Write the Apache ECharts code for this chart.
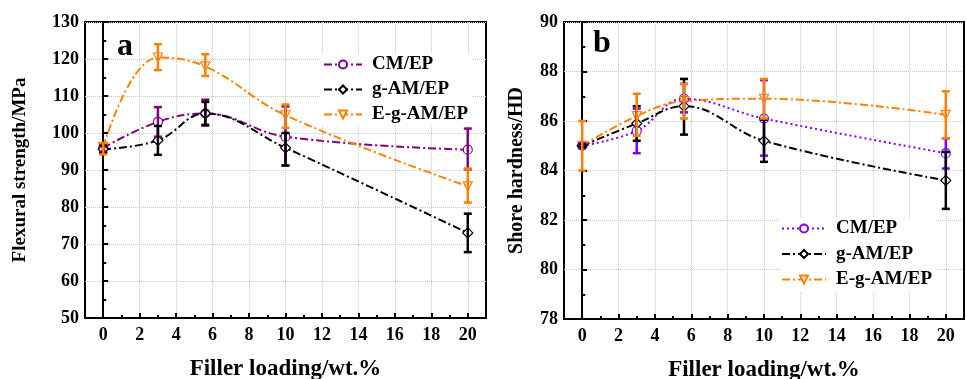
<!doctype html>
<html lang="en">
<head>
  <meta charset="UTF-8">
  <title>Filler loading</title>
</head>
<body style="margin:0;background:#fff">
<div id="main" style="width: 966px;height: 379px"></div>
<script src="https://cdn.jsdelivr.net/npm/echarts@6/dist/echarts.min.js"></script>
<script>
    // filler loading (wt.%)
    var loading = [0, 3, 5.6, 10, 20];
    var xMajor = [0, 2, 4, 6, 8, 10, 12, 14, 16, 18, 20];
    var xMinor = [-1, 1, 3, 5, 7, 9, 11, 13, 15, 17, 19];

    // (a) flexural strength, MPa
    var cmFlex = [96.0, 103.0, 105.3, 99.0, 95.5];
    var cmFlexLow = [95.0, 99.0, 102.0, 91.2, 90.2];
    var cmFlexHigh = [97.0, 107.0, 109.0, 107.2, 101.2];
    var gamFlex = [95.6, 98.0, 105.3, 96.0, 73.0];
    var gamFlexLow = [94.6, 94.1, 102.2, 91.2, 67.8];
    var gamFlexHigh = [96.6, 101.9, 108.4, 100.0, 78.2];
    var egamFlex = [96.2, 120.4, 118.0, 104.8, 85.6];
    var egamFlexLow = [94.2, 117.0, 115.4, 101.4, 81.2];
    var egamFlexHigh = [97.3, 124.0, 121.3, 107.7, 90.4];

    // (b) shore hardness, HD
    var cmHard = [85.0, 85.6, 86.9, 86.1, 84.7];
    var cmHardLow = [84.9, 84.7, 86.35, 84.6, 84.08];
    var cmHardHigh = [85.1, 86.5, 87.5, 87.65, 85.3];
    var gamHard = [85.0, 85.9, 86.6, 85.2, 83.6];
    var gamHardLow = [84.95, 85.2, 85.45, 84.35, 82.45];
    var gamHardHigh = [85.05, 86.6, 87.7, 86.05, 84.75];
    var egamHard = [85.0, 86.2, 86.8, 86.9, 86.25];
    var egamHardLow = [84.0, 85.4, 86.1, 86.1, 85.3];
    var egamHardHigh = [86.0, 87.1, 87.5, 87.7, 87.2];

    var PURPLE = '#800080', VIOLET = '#8000ff', BLACK = '#000', ORANGE = '#ff8000';
    var FONT = 'Liberation Serif';
    var DASHDOT = [8, 3, 2, 3];

    function pairs(ys) {
        return loading.map(function (x, i) { return [x, ys[i]]; });
    }
    function triples(lo, hi) {
        return loading.map(function (x, i) { return [x, lo[i], hi[i]]; });
    }

    function lineSeries(name, ys, color, symbol, rotate, dash, idx) {
        return {
            name: name, type: 'line', xAxisIndex: idx * 2, yAxisIndex: idx,
            data: pairs(ys), smooth: 0.4, z: 3,
            symbol: symbol, symbolSize: symbol === 'diamond' ? 10 : 9, symbolRotate: rotate,
            showAllSymbol: true,
            lineStyle: {color: color, width: 2, type: dash},
            itemStyle: {color: '#fff', borderColor: color, borderWidth: 1.2}
        };
    }

    function errSeries(lo, hi, color, idx) {
        return {
            type: 'custom', xAxisIndex: idx * 2, yAxisIndex: idx, z: 4,
            data: triples(lo, hi),
            encode: {x: 0, y: [1, 2]},
            renderItem: function (params, api) {
                var x = api.value(0);
                var p1 = api.coord([x, api.value(1)]);
                var p2 = api.coord([x, api.value(2)]);
                var st = {stroke: color, lineWidth: 2.5};
                return {
                    type: 'group',
                    children: [
                        {type: 'line', shape: {x1: p1[0], y1: p1[1], x2: p2[0], y2: p2[1]}, style: st},
                        {type: 'line', shape: {x1: p1[0] - 4, y1: p1[1], x2: p1[0] + 4, y2: p1[1]}, style: st},
                        {type: 'line', shape: {x1: p2[0] - 4, y1: p2[1], x2: p2[0] + 4, y2: p2[1]}, style: st}
                    ]
                };
            }
        };
    }

    function xAxes(gridIndex) {
        return [{
            type: 'value', gridIndex: gridIndex, min: -1, max: 21,
            name: 'Filler loading/wt.%', nameLocation: 'middle', nameGap: 40,
            nameTextStyle: {fontFamily: FONT, fontWeight: 'bold', fontSize: 23, color: '#000'},
            axisLine: {lineStyle: {color: '#000', width: 2}},
            axisTick: {inside: true, length: 5, lineStyle: {color: '#000', width: 2}, customValues: xMajor},
            axisLabel: {fontFamily: FONT, fontWeight: 'bold', fontSize: 18, color: '#000', margin: 8, customValues: xMajor},
            splitLine: {show: true, lineStyle: {color: '#c8c8c8', type: 'dotted', width: 1}}
        }, {
            type: 'value', gridIndex: gridIndex, min: -1, max: 21, position: 'bottom',
            axisLine: {show: false},
            axisTick: {inside: true, length: 3, lineStyle: {color: '#000', width: 2}, customValues: xMinor},
            axisLabel: {show: false},
            splitLine: {show: false}
        }];
    }

    function yAxis(gridIndex, name, min, max, interval, gap, size) {
        return {
            type: 'value', gridIndex: gridIndex, min: min, max: max, interval: interval,
            name: name, nameLocation: 'middle', nameGap: gap,
            nameTextStyle: {fontFamily: FONT, fontWeight: 'bold', fontSize: size, color: '#000'},
            axisLine: {show: true, lineStyle: {color: '#000', width: 2}},
            axisTick: {show: true, inside: true, length: 5, lineStyle: {color: '#000', width: 2}},
            minorTick: {show: true, splitNumber: 2, length: 3, lineStyle: {color: '#000', width: 2}},
            axisLabel: {fontFamily: FONT, fontWeight: 'bold', fontSize: 18, color: '#000', margin: 6},
            splitLine: {show: true, lineStyle: {color: '#c8c8c8', type: 'dotted', width: 1}}
        };
    }

    function legend(left, top, names, w, gap) {
        return {
            left: left, top: top, orient: 'vertical', data: names,
            itemWidth: w, itemHeight: 10, itemGap: gap, padding: [2, 4, 2, 2],
            backgroundColor: '#fff',
            formatter: function (n) { return n.replace('b:', ''); },
            textStyle: {fontFamily: FONT, fontWeight: 'bold', fontSize: 19, color: '#000', lineHeight: 18,
                padding: [0, 0, 0, 5]}
        };
    }

    var chart = echarts.init(document.getElementById('main'), null, {renderer: 'canvas'});
    chart.setOption({
        animation: false,
        title: [
            {text: 'a', left: 112, top: 26, textStyle: {fontFamily: FONT, fontWeight: 'bold', fontSize: 32, color: '#000'}},
            {text: 'b', left: 588, top: 23, textStyle: {fontFamily: FONT, fontWeight: 'bold', fontSize: 32, color: '#000'}}
        ],
        grid: [
            {left: 85, top: 22, width: 401, height: 296, outerBoundsMode: 'none', show: true,
                borderColor: '#000', borderWidth: 2, backgroundColor: 'transparent'},
            {left: 564, top: 22, width: 400, height: 297, outerBoundsMode: 'none', show: true,
                borderColor: '#000', borderWidth: 2, backgroundColor: 'transparent'}
        ],
        legend: [
            legend(321, 53, ['CM/EP', 'g-AM/EP', 'E-g-AM/EP'], 38, 6),
            legend(779, 217, ['b:CM/EP', 'b:g-AM/EP', 'b:E-g-AM/EP'], 44, 6.5)
        ],
        xAxis: xAxes(0).concat(xAxes(1)),
        yAxis: [
            yAxis(0, 'Flexural strength/MPa', 50, 130, 10, 55, 19),
            yAxis(1, 'Shore hardness/HD', 78, 90, 2, 37, 20)
        ],
        series: [
            lineSeries('CM/EP', cmFlex, PURPLE, 'circle', 0, DASHDOT, 0),
            lineSeries('g-AM/EP', gamFlex, BLACK, 'diamond', 0, DASHDOT, 0),
            lineSeries('E-g-AM/EP', egamFlex, ORANGE, 'triangle', 180, DASHDOT, 0),
            errSeries(cmFlexLow, cmFlexHigh, PURPLE, 0),
            errSeries(gamFlexLow, gamFlexHigh, BLACK, 0),
            errSeries(egamFlexLow, egamFlexHigh, ORANGE, 0),
            lineSeries('b:CM/EP', cmHard, VIOLET, 'circle', 0, [2, 3], 1),
            lineSeries('b:g-AM/EP', gamHard, BLACK, 'diamond', 0, DASHDOT, 1),
            lineSeries('b:E-g-AM/EP', egamHard, ORANGE, 'triangle', 180, DASHDOT, 1),
            errSeries(cmHardLow, cmHardHigh, VIOLET, 1),
            errSeries(gamHardLow, gamHardHigh, BLACK, 1),
            errSeries(egamHardLow, egamHardHigh, ORANGE, 1)
        ]
    });
</script>
</body>
</html>
